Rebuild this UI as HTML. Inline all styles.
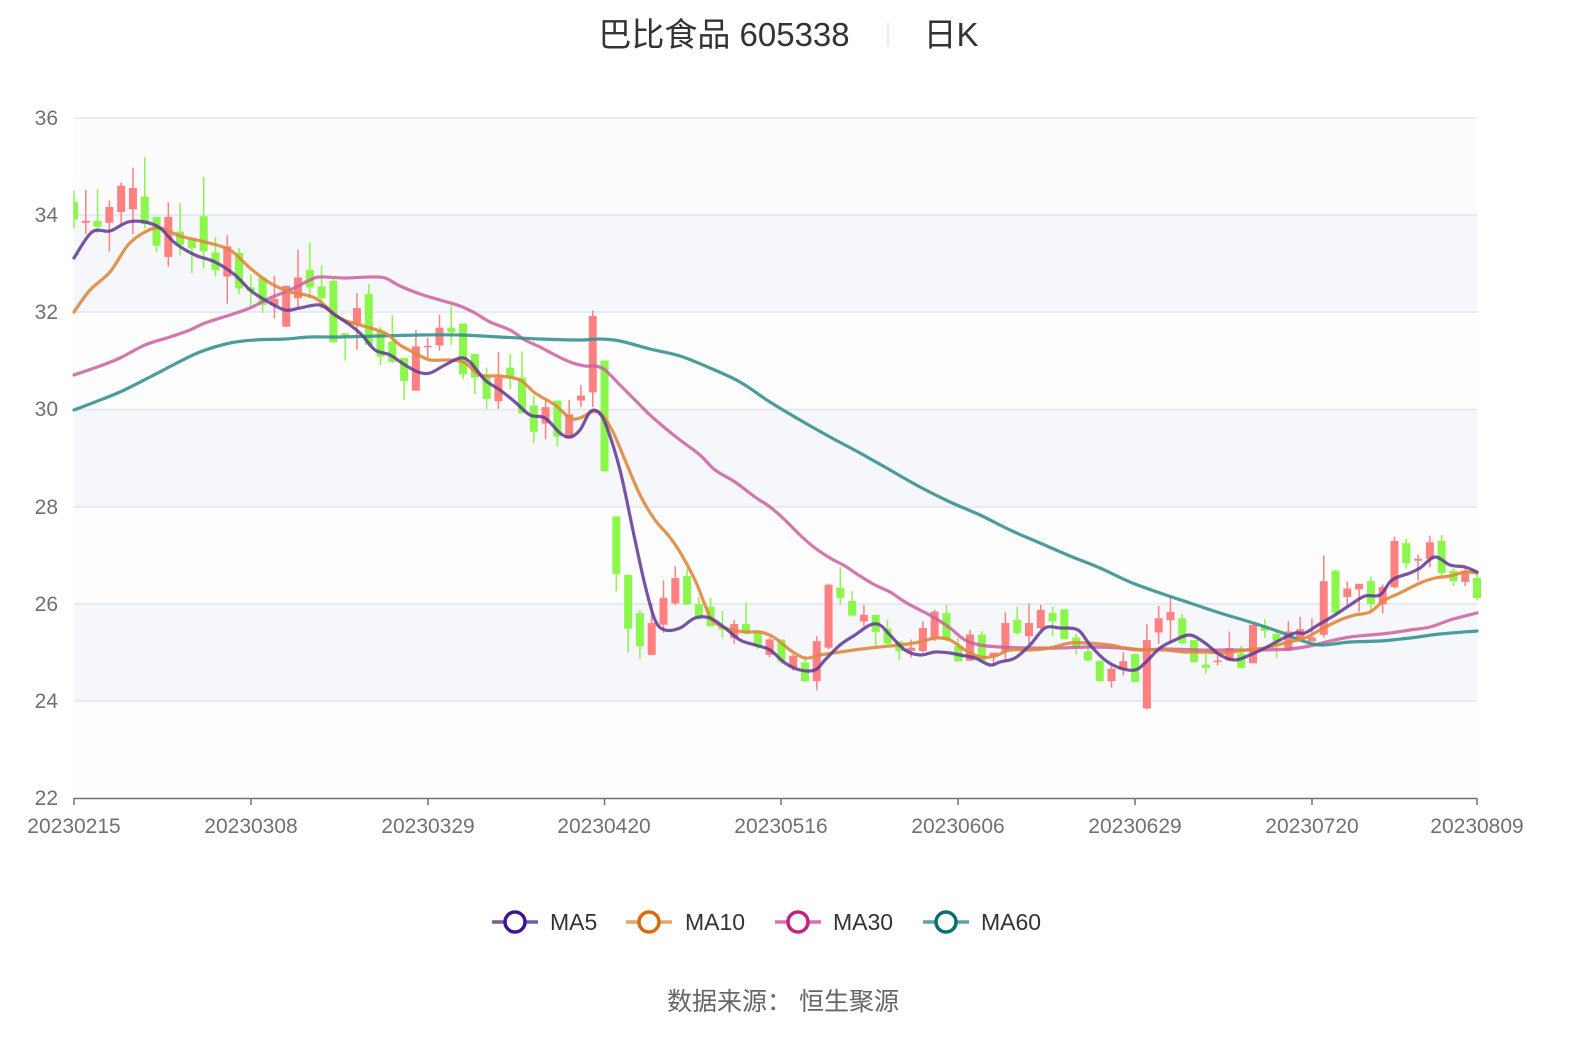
<!DOCTYPE html>
<html><head><meta charset="utf-8"><style>
html,body{margin:0;padding:0;background:#fff;}
body{width:1590px;height:1034px;overflow:hidden;font-family:"Liberation Sans","Noto Sans CJK SC",sans-serif;}
</style></head><body>
<svg id="s" width="1590" height="1034" viewBox="0 0 1590 1034" xmlns="http://www.w3.org/2000/svg" font-family="Liberation Sans, Noto Sans CJK SC, sans-serif">
<rect x="74" y="118" width="1403" height="97" fill="#fcfcfe"/>
<rect x="74" y="215" width="1403" height="97" fill="#f5f7fb"/>
<rect x="74" y="312" width="1403" height="97" fill="#fdfdfe"/>
<rect x="74" y="409" width="1403" height="98" fill="#f5f7fb"/>
<rect x="74" y="507" width="1403" height="97" fill="#fdfdfe"/>
<rect x="74" y="604" width="1403" height="97" fill="#f5f7fb"/>
<rect x="74" y="701" width="1403" height="97" fill="#fdfdfe"/>
<g stroke="#e0e5f0" stroke-width="1.5">
<line x1="74" x2="1477" y1="118" y2="118"/><line x1="74" x2="1477" y1="215" y2="215"/>
<line x1="74" x2="1477" y1="312" y2="312"/><line x1="74" x2="1477" y1="409.5" y2="409.5"/>
<line x1="74" x2="1477" y1="507" y2="507"/><line x1="74" x2="1477" y1="604" y2="604"/>
<line x1="74" x2="1477" y1="701" y2="701"/>
</g>
<g id="candles"></g>
<g id="lines" fill="none" stroke-width="3.2" stroke-linejoin="round" stroke-linecap="round"></g>
<line x1="74" x2="1477" y1="798.5" y2="798.5" stroke="#6e7079" stroke-width="1.5"/>
<g stroke="#6e7079" stroke-width="1.5">
<line x1="74" x2="74" y1="798" y2="805"/><line x1="251" x2="251" y1="798" y2="805"/>
<line x1="428" x2="428" y1="798" y2="805"/><line x1="604.5" x2="604.5" y1="798" y2="805"/>
<line x1="781" x2="781" y1="798" y2="805"/><line x1="958" x2="958" y1="798" y2="805"/>
<line x1="1135" x2="1135" y1="798" y2="805"/><line x1="1312" x2="1312" y1="798" y2="805"/>
<line x1="1477" x2="1477" y1="798" y2="805"/>
</g>
<g fill="#6e7079" font-size="21" text-anchor="end">
<text x="58" y="125">36</text><text x="58" y="222">34</text><text x="58" y="319">32</text>
<text x="58" y="416">30</text><text x="58" y="514">28</text><text x="58" y="611">26</text>
<text x="58" y="708">24</text><text x="58" y="805">22</text>
</g>
<g fill="#6e7079" font-size="21" text-anchor="middle">
<text x="74" y="833">20230215</text><text x="251" y="833">20230308</text><text x="428" y="833">20230329</text>
<text x="604" y="833">20230420</text><text x="781" y="833">20230516</text><text x="958" y="833">20230606</text>
<text x="1135" y="833">20230629</text><text x="1312" y="833">20230720</text><text x="1477" y="833">20230809</text>
</g>
<text x="724" y="46" font-size="33" fill="#333" text-anchor="middle">巴比食品 605338</text>
<line x1="888" x2="888" y1="22" y2="46" stroke="#e6e6e6" stroke-width="1.5"/>
<text x="951" y="46" font-size="33" fill="#333" text-anchor="middle">日K</text>
<g font-size="23" fill="#333">
<line x1="492" x2="538" y1="922" y2="922" stroke="#7b5aa6" stroke-width="3.5"/><circle cx="515" cy="922" r="10" fill="#fff" stroke="#3d168e" stroke-width="3.5"/><text x="550" y="930">MA5</text>
<line x1="626" x2="672" y1="922" y2="922" stroke="#e8a36a" stroke-width="3.5"/><circle cx="649" cy="922" r="10" fill="#fff" stroke="#d86a0a" stroke-width="3.5"/><text x="685" y="930">MA10</text>
<line x1="775" x2="821" y1="922" y2="922" stroke="#de6fae" stroke-width="3.5"/><circle cx="798" cy="922" r="10" fill="#fff" stroke="#c81f82" stroke-width="3.5"/><text x="833" y="930">MA30</text>
<line x1="923" x2="969" y1="922" y2="922" stroke="#5fa3a3" stroke-width="3.5"/><circle cx="946" cy="922" r="10" fill="#fff" stroke="#0a6e6e" stroke-width="3.5"/><text x="981" y="930">MA60</text>
</g>
<text x="783" y="1010" font-size="25" fill="#666" text-anchor="middle">数据来源：  恒生聚源</text>
</svg>
<script>
var z1=[[165,218,130,245,'g'],[222,228,128,262,'r'],[222,240,124,260,'g'],[180,228,160,315,'r'],[115,195,105,235,'r'],[122,187,60,262,'r'],[148,232,28,245,'g'],[210,298,210,318,'g'],[210,332,165,362,'r'],[255,295,168,328,'g'],[278,305,278,383,'g'],[208,315,88,368,'g'],[318,372,272,392,'g'],[300,392,265,475,'r'],[320,428,305,445,'g'],[425,435,385,480,'g'],[395,478,395,502,'g'],[460,480,390,520,'r'],[420,545,420,545,'r'],[395,458,310,488,'r'],[372,425,288,460,'g'],[422,458,358,490,'g'],[405,592,400,595,'g'],[565,572,565,648,'g'],[488,540,442,615,'r'],[445,600,415,605,'g'],[560,636,545,662,'g'],[590,652,510,655,'g'],[640,710,640,768,'g'],[605,740,555,740,'r'],[603,607,578,640,'r'],[548,602,508,618,'r'],[548,562,480,600,'g'],[535,690,535,705,'g'],[628,700,628,750,'g'],[695,765,670,795,'g'],[700,772,622,795,'r'],[670,700,628,735,'g'],[700,808,620,810,'g'],[785,865,755,900,'g'],[790,840,768,888,'r'],[770,880,770,910,'g'],[812,885,768,885,'r'],[755,770,722,790,'r'],[512,745,495,790,'r'],[648,985,648,988,'g']];
var z2=[[670,845,670,898,'g'],[848,1012,848,1085,'g'],[965,1065,955,1105,'g'],[995,1092,935,1092,'r'],[918,1000,865,1025,'r'],[858,935,822,940,'r'],[852,938,830,940,'g'],[938,975,915,985,'g'],[945,1005,918,1005,'g'],[1005,1015,958,1040,'g'],[998,1040,985,1058,'r'],[998,1025,932,1030,'g'],[1020,1065,1018,1075,'g'],[1045,1092,1040,1100,'r'],[1045,1112,1045,1120,'g'],[1095,1130,1090,1140,'r'],[1115,1172,1100,1175,'g'],[1050,1172,1035,1200,'r'],[878,1070,875,1075,'r'],[888,918,825,938,'g'],[928,972,898,975,'g'],[970,990,940,1005,'r'],[970,1022,970,1065,'g'],[1012,1058,985,1060,'g'],[1050,1080,1050,1108,'g'],[1070,1080,1045,1100,'r'],[1010,1080,990,1085,'r'],[960,1045,955,1050,'r'],[965,1045,940,1050,'g'],[1065,1112,1040,1112,'g'],[1030,1110,1015,1110,'r'],[1030,1110,1020,1115,'g'],[1085,1095,1085,1128,'r'],[995,1080,962,1112,'r'],[985,1025,945,1030,'g'],[995,1035,935,1060,'r'],[955,1010,940,1015,'r'],[965,990,945,1035,'g']];
var z3=[[295,385,295,385,'g'],[380,410,368,432,'g'],[422,450,402,452,'g'],[452,512,448,515,'g'],[475,512,465,532,'r'],[452,478,425,495,'r'],[430,515,430,515,'g'],[388,595,340,598,'r'],[322,365,285,400,'r'],[303,328,258,398,'r'],[322,398,308,400,'g'],[388,455,388,455,'g'],[462,472,422,490,'g'],[450,452,435,465,'r'],[412,450,362,452,'r'],[428,472,405,472,'g'],[342,458,342,458,'r'],[345,360,325,382,'g'],[370,392,355,442,'g'],[362,420,330,422,'r'],[355,390,318,392,'r'],[380,392,322,392,'r'],[210,372,132,380,'r'],[178,305,175,315,'g'],[232,258,212,285,'r'],[218,235,218,302,'r'],[210,280,195,298,'g'],[228,280,220,308,'r'],[88,228,75,232,'r'],[95,155,82,172,'g'],[142,148,130,208,'r'],[92,142,72,168,'r'],[88,185,70,192,'g'],[178,210,172,225,'g'],[178,212,170,225,'r']];
var C=[];
z1.forEach(function(a){C.push(a.slice(0,4).map(function(v){return 148+0.328*v}).concat(a[4]))});
z2.forEach(function(a){C.push(a.slice(0,4).map(function(v){return 296.5+0.3282*v}).concat(a[4]))});
z3.forEach(function(a){C.push(a.slice(0,4).map(function(v){return 511.8+0.3306*v}).concat(a[4]))});
C.push([578,598,572,600,'g']);
var d=1403/119,h='';
C.forEach(function(c,i){
 var x=74+i*d,col=c[4]=='r'?'#ff8080':'#8af74a';
 var bh=Math.max(c[1]-c[0],1.5);
 h+='<line x1="'+x+'" x2="'+x+'" y1="'+c[2]+'" y2="'+c[3]+'" stroke="'+col+'" stroke-width="1.5"/>';
 var w=8,x0=x-w/2;
 if(i==0){x0=x;w=4;}
 h+='<rect x="'+x0+'" y="'+c[0]+'" width="'+w+'" height="'+bh+'" fill="'+col+'"/>';
});
document.getElementById('candles').innerHTML=h;
function P(s){var a=s.split(/[ ,]+/).map(Number),p=[];for(var i=0;i<a.length;i+=2)p.push([a[i],a[i+1]]);return p}
function path(p){var s='M'+p[0][0]+','+p[0][1];for(var i=0;i<p.length-1;i++){var p0=p[i-1]||p[i],p1=p[i],p2=p[i+1],p3=p[i+2]||p2;
 s+=' C'+(p1[0]+(p2[0]-p0[0])/6)+','+(p1[1]+(p2[1]-p0[1])/6)+' '+(p2[0]-(p3[0]-p1[0])/6)+','+(p2[1]-(p3[1]-p1[1])/6)+' '+p2[0]+','+p2[1];}return s}
var L=[
['rgba(205,95,160,0.85)','74 375 100 366 120 358 145 345 170 337 190 330 205 323 230 315 250 308 270 298 290 290 310 280 320 277 345 278 370 277 385 278 400 286 420 294 440 300 460 306 475 313 490 322 510 330 525 340 540 347 555 355 570 362 585 366 595 366 605 370 620 385 635 400 650 415 665 428 680 440 700 455 715 470 735 482 755 497 770 507 785 520 800 535 815 548 830 558 845 566 860 576 875 585 890 592 905 602 920 610 935 618 950 628 965 640 980 645 1000 647 1030 648 1060 648 1090 647 1120 648 1140 650 1165 649 1200 650 1230 650 1260 650 1290 649 1310 646 1330 641 1350 637 1370 635 1390 633 1410 630 1430 627 1450 620 1465 616 1477 613'],
['rgba(55,145,145,0.9)','74 410 95 402 120 392 150 377 175 364 200 352 230 343 255 340 285 339 310 337 340 337 380 336 420 335 460 335 500 337 540 339 580 340 600 339 620 341 650 349 680 356 710 368 740 382 770 402 800 420 830 437 860 453 890 470 920 487 950 502 980 515 1010 530 1040 543 1070 556 1100 568 1130 582 1160 593 1190 603 1220 613 1250 622 1280 632 1300 640 1320 645 1350 642 1380 641 1410 638 1440 634 1477 631'],
['rgba(225,135,60,0.9)','74 312 90 290 110 272 128 245 145 232 160 228 180 236 205 242 230 250 250 268 270 283 290 292 315 298 340 318 360 325 385 333 400 345 415 353 430 360 450 360 465 363 480 375 500 376 520 380 535 393 555 405 570 418 580 418 592 412 600 413 612 430 625 460 640 495 655 520 668 535 680 552 695 580 705 605 712 620 725 628 745 632 760 632 775 638 790 650 805 658 820 655 840 652 870 648 900 645 920 642 935 638 950 640 965 650 980 657 995 656 1010 650 1030 650 1050 648 1070 643 1085 643 1110 645 1125 648 1145 650 1165 650 1185 652 1205 652 1225 653 1245 650 1265 648 1285 643 1305 638 1320 630 1340 620 1355 615 1370 612 1385 600 1400 593 1420 583 1435 578 1450 576 1465 572 1477 573'],
['rgba(100,60,150,0.88)','74 258 92 232 110 231 128 222 145 222 160 228 175 243 195 255 215 262 235 275 250 290 265 300 285 310 300 308 320 305 335 315 350 325 362 335 375 350 390 355 405 365 418 372 430 373 445 365 460 358 470 362 485 380 500 390 515 402 530 415 545 418 560 433 570 437 580 430 590 412 598 412 606 425 620 470 635 540 645 585 655 620 665 630 680 628 695 618 710 618 725 628 740 640 755 645 770 650 785 663 800 670 815 670 825 660 840 645 855 635 870 625 880 625 890 635 905 650 920 655 935 652 950 653 960 655 975 658 990 665 1000 662 1015 658 1030 645 1045 628 1060 628 1078 630 1090 645 1105 660 1120 668 1135 670 1145 663 1160 648 1175 640 1190 635 1205 643 1220 655 1235 660 1250 655 1265 648 1280 640 1295 633 1305 633 1318 625 1335 615 1350 605 1365 596 1380 595 1392 580 1410 573 1420 568 1435 557 1450 565 1465 567 1477 572']];
var g='';L.forEach(function(l){g+='<path d="'+path(P(l[1]))+'" stroke="'+l[0]+'"/>'});
document.getElementById('lines').innerHTML=g;
</script>
</body></html>
